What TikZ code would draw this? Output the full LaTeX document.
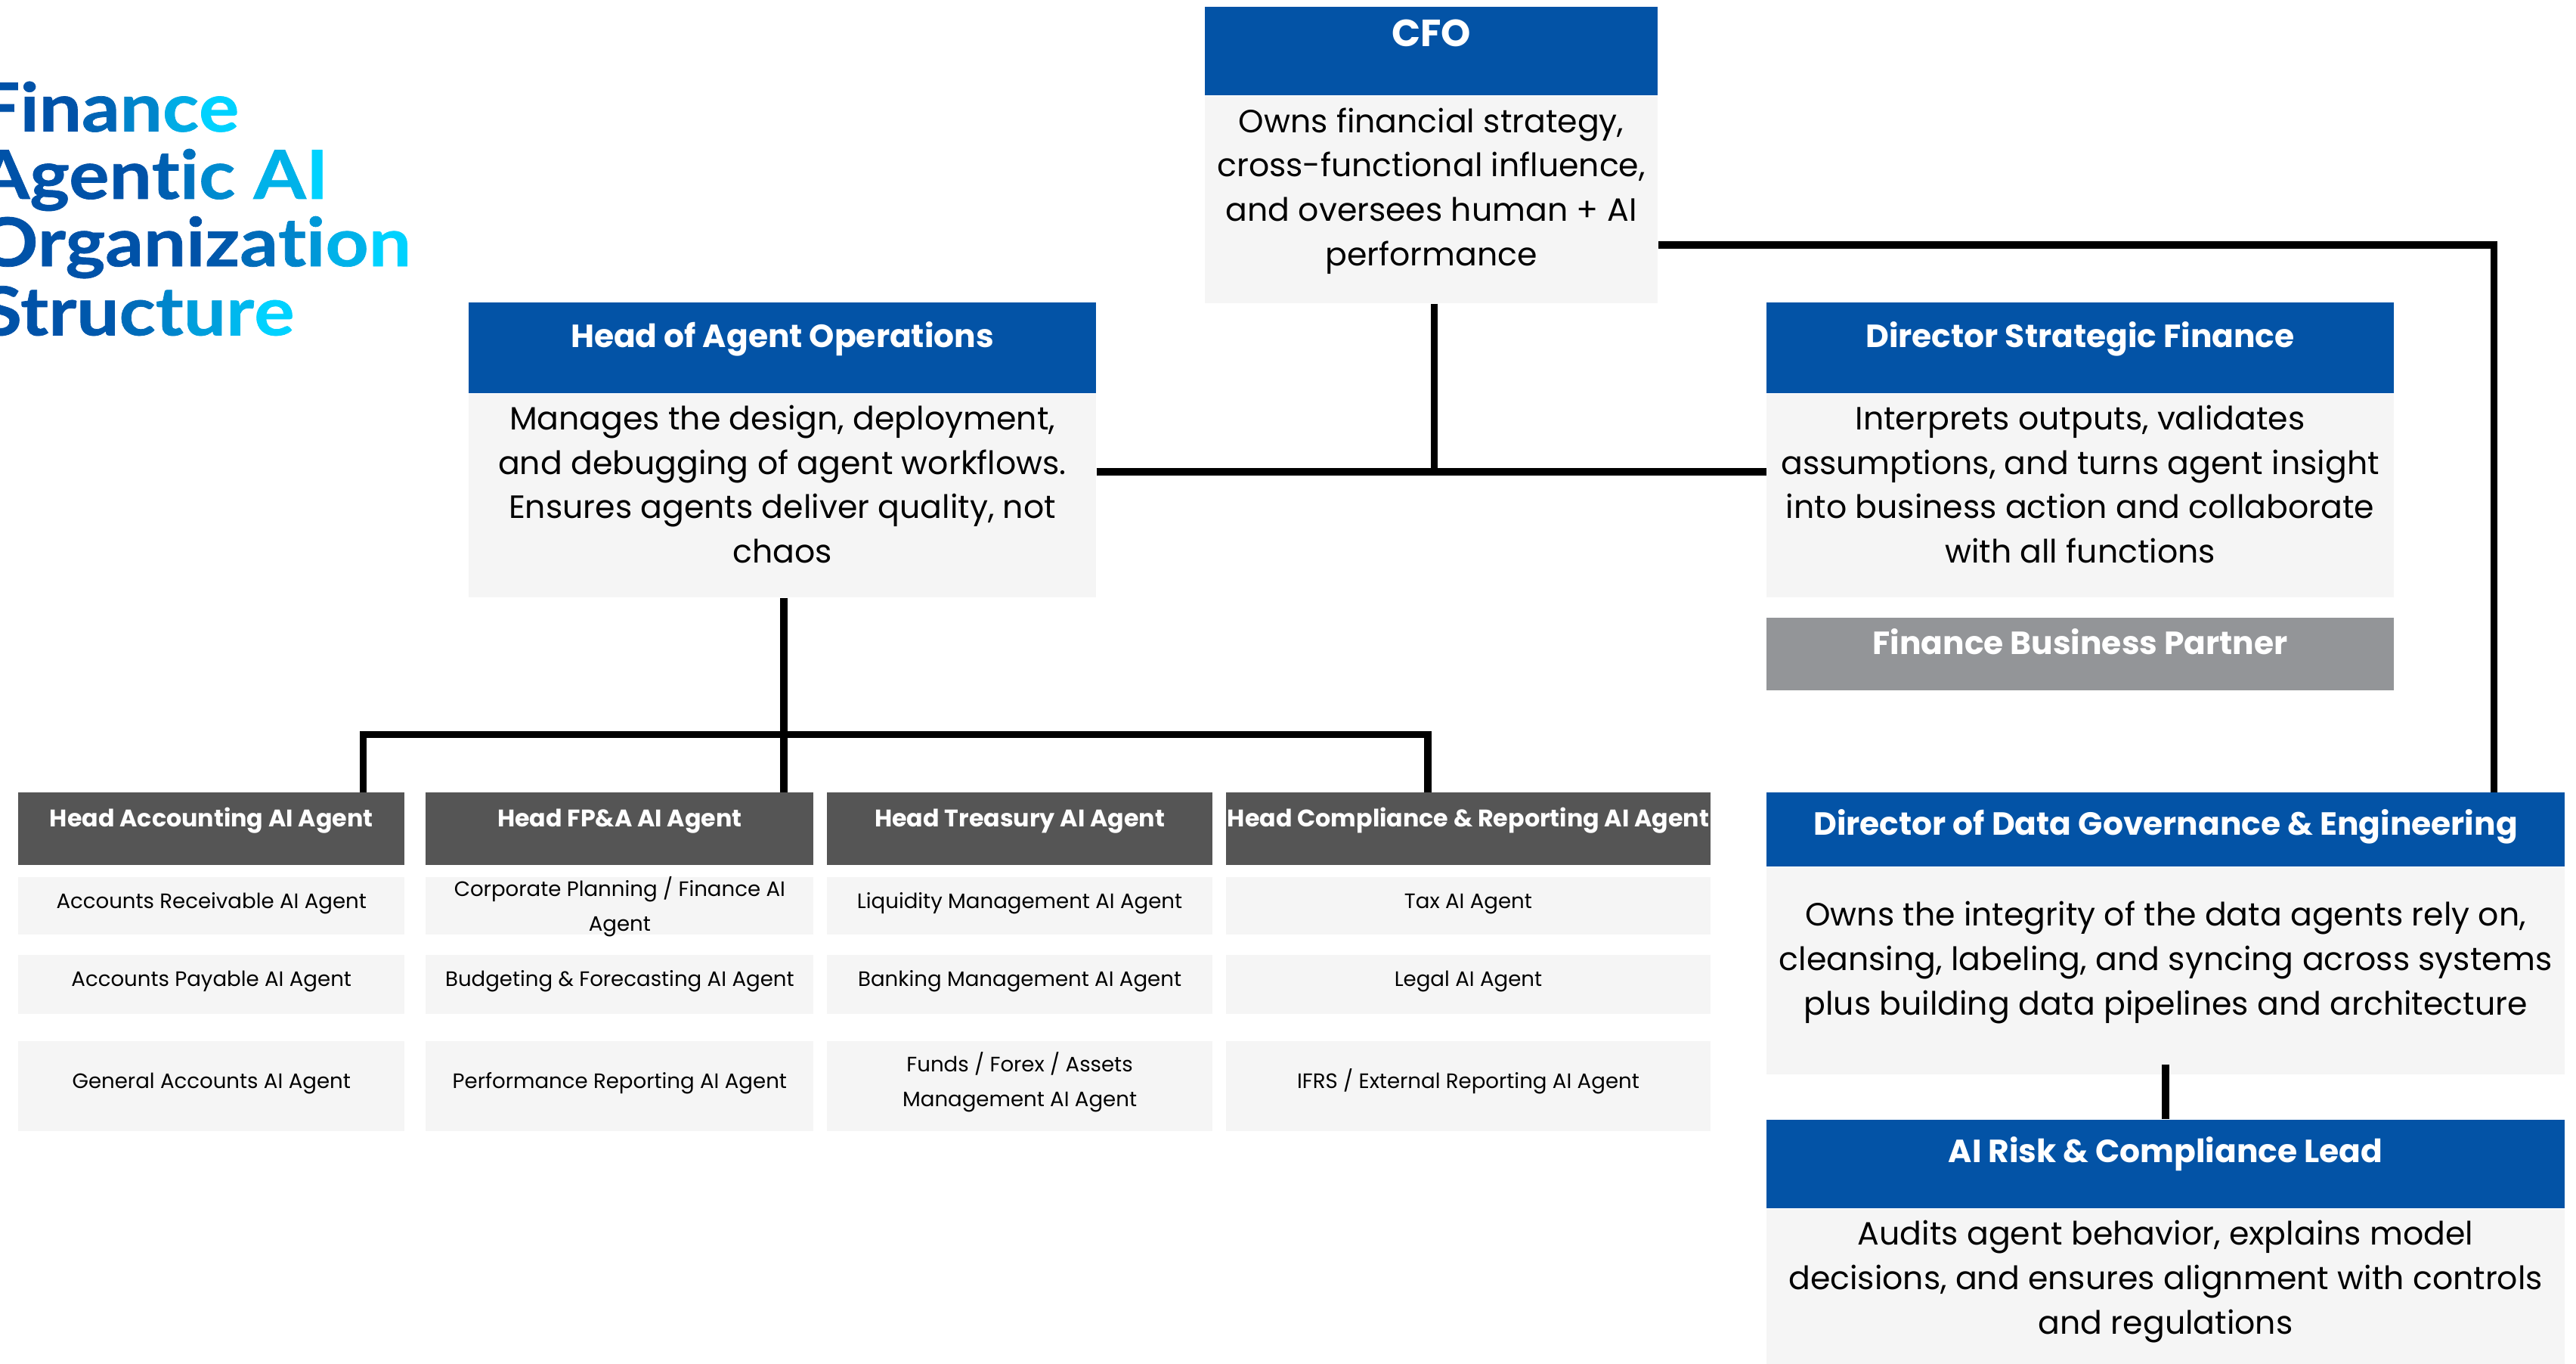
\documentclass[tikz,border=0pt]{standalone}
\usepackage{fontspec}
\setmainfont{Poppins}
\newfontfamily\titlefont{Lato}[FakeStretch=1.12,FakeBold=0.8]
\usetikzlibrary{positioning}

\definecolor{cblue}{HTML}{0353A6}
\definecolor{cdark}{HTML}{555555}
\definecolor{clight}{HTML}{F5F5F5}
\definecolor{cmid}{HTML}{939598}
\definecolor{tblue}{HTML}{0052A8}
\definecolor{tcyan}{HTML}{00D2FF}

% gradient letters of the title, and a box with its text at the top
\newcommand{\gl}[2]{\textcolor{tcyan!#1!tblue}{#2}}
\newcommand{\topbox}[4]{\parbox[c][#1][t]{#2}{\centering\rule{0pt}{#3}#4}}

\begin{document}
\begin{tikzpicture}[x=1pt,y=-1pt,
    every node/.style={inner sep=0pt,anchor=north west},
    title/.style={anchor=base west,font=\titlefont\fontsize{41}{41}\selectfont\bfseries},
    head/.style={fill=cblue,text=white,font=\fontsize{19.5}{24}\selectfont\bfseries},
    body/.style={fill=clight,font=\fontsize{19.6}{27}\selectfont},
    agent head/.style={fill=cdark,text=white,font=\fontsize{14.6}{18}\selectfont\bfseries,
                       text height=21pt,text depth=23pt},
    agent/.style={fill=clight,font=\fontsize{12.7}{21}\selectfont},
    link/.style={line width=4.4pt}]
  \fill[white] (0,0) rectangle (1568,830);
  \useasboundingbox (0,0) rectangle (1568,830);

  % title
  \node[title] (t1) at (-14,80) {\gl{0}{Fi}\gl{0}{n}\gl{15}{a}\gl{40}{n}\gl{70}{c}\gl{100}{e}};
  \node[title] (t2) at (-14,121) {\gl{0}{Agen}\gl{10}{t}\gl{25}{i}\gl{45}{c} \gl{75}{A}\gl{100}{I}};
  \node[title] (t3) at (-14,162) {\gl{0}{Organi}\gl{5}{z}\gl{20}{a}\gl{40}{t}\gl{55}{i}\gl{75}{o}\gl{100}{n}};
  \node[title] (t4) at (-12,204) {\gl{0}{Str}\gl{5}{u}\gl{20}{c}\gl{40}{t}\gl{60}{u}\gl{80}{r}\gl{100}{e}};

  % leaders
  \node[head,minimum width=276pt,text height=24pt,text depth=30pt,
        font=\fontsize{23}{26}\selectfont\bfseries] (cfoh) at (733,4) {CFO};
  \node[body,below=0pt of cfoh] (cfob) {\topbox{126pt}{276pt}{22pt}{Owns financial strategy,\\
    cross-functional influence,\\and oversees human + AI\\performance}};

  \node[head,minimum width=382pt,text height=27pt,text depth=28pt] (hoah) at (285,184) {Head of Agent Operations};
  \node[body,below=0pt of hoah] (hoab) {\topbox{124pt}{382pt}{22pt}{Manages the design, deployment,\\
    and debugging of agent workflows.\\Ensures agents deliver quality, not\\chaos}};

  \node[head,minimum width=382pt,text height=27pt,text depth=28pt] (dsfh) at (1075,184) {Director Strategic Finance};
  \node[body,below=0pt of dsfh] (dsfb) {\topbox{124pt}{382pt}{22pt}{Interprets outputs, validates\\
    assumptions, and turns agent insight\\into business action and collaborate\\with all functions}};
  \node[head,fill=cmid,minimum width=382pt,text height=22pt,text depth=22pt,below=12pt of dsfb] (fbp) {Finance Business Partner};

  \node[head,minimum width=486pt,text height=26pt,text depth=19pt] (dgh) at (1075,482) {Director of Data Governance \& Engineering};
  \node[body,below=0pt of dgh] (dgb) {\topbox{126pt}{486pt}{36pt}{Owns the integrity of the data agents rely on,\\
    cleansing, labeling, and syncing across systems\\plus building data pipelines and architecture}};

  \node[head,minimum width=486pt,text height=26pt,text depth=28pt] (arh) at (1075,681) {AI Risk \& Compliance Lead};
  \node[body,below=0pt of arh] (arb) {\topbox{100pt}{486pt}{22pt}{Audits agent behavior, explains model\\
    decisions, and ensures alignment with controls\\and regulations}};

  % agent teams
  \node[agent head,minimum width=235pt] (acch) at (11,482) {Head Accounting AI Agent};
  \node[agent,below=7pt of acch] (acc1) {\topbox{35pt}{235pt}{19pt}{Accounts Receivable AI Agent}};
  \node[agent,below=12pt of acc1] (acc2) {\topbox{36pt}{235pt}{19pt}{Accounts Payable AI Agent}};
  \node[agent,below=16pt of acc2] (acc3) {\topbox{55pt}{235pt}{29pt}{General Accounts AI Agent}};

  \node[agent head,minimum width=236pt] (fpah) at (259,482) {Head FP\&A AI Agent};
  \node[agent,below=7pt of fpah] (fpa1) {\topbox{35pt}{236pt}{8pt}{Corporate Planning / Finance AI\\Agent}};
  \node[agent,below=12pt of fpa1] (fpa2) {\topbox{36pt}{236pt}{19pt}{Budgeting \& Forecasting AI Agent}};
  \node[agent,below=16pt of fpa2] (fpa3) {\topbox{55pt}{236pt}{29pt}{Performance Reporting AI Agent}};

  \node[agent head,minimum width=235pt] (treh) at (503,482) {Head Treasury AI Agent};
  \node[agent,below=7pt of treh] (tre1) {\topbox{35pt}{235pt}{19pt}{Liquidity Management AI Agent}};
  \node[agent,below=12pt of tre1] (tre2) {\topbox{36pt}{235pt}{19pt}{Banking Management AI Agent}};
  \node[agent,below=16pt of tre2] (tre3) {\topbox{55pt}{235pt}{19pt}{Funds / Forex / Assets\\Management AI Agent}};

  \node[agent head,minimum width=295pt] (comh) at (746,482) {Head Compliance \& Reporting AI Agent};
  \node[agent,below=7pt of comh] (com1) {\topbox{35pt}{295pt}{19pt}{Tax AI Agent}};
  \node[agent,below=12pt of com1] (com2) {\topbox{36pt}{295pt}{19pt}{Legal AI Agent}};
  \node[agent,below=16pt of com2] (com3) {\topbox{55pt}{295pt}{29pt}{IFRS / External Reporting AI Agent}};

  % connectors
  \coordinate (j1) at (873,287);
  \coordinate (c1) at (1518,149);
  \coordinate (j2) at (477,447);
  \coordinate (k1) at (221,447);
  \coordinate (k2) at (869,447);
  \draw[link] (j1 |- cfob.south) -- (j1);
  \draw[link] (hoab.east |- j1) -- (dsfb.west |- j1);
  \draw[link] (cfob.east |- c1) -- (c1) -- (c1 |- dgh.north);
  \draw[link] (j2 |- hoab.south) -- (j2) -- (j2 |- fpah.north);
  \draw[link] (k1 |- acch.north) -- (k1) -- (k2) -- (k2 |- comh.north);
  \draw[link] ([yshift=6pt]dgb.south) -- (arh.north);
\end{tikzpicture}
\end{document}
